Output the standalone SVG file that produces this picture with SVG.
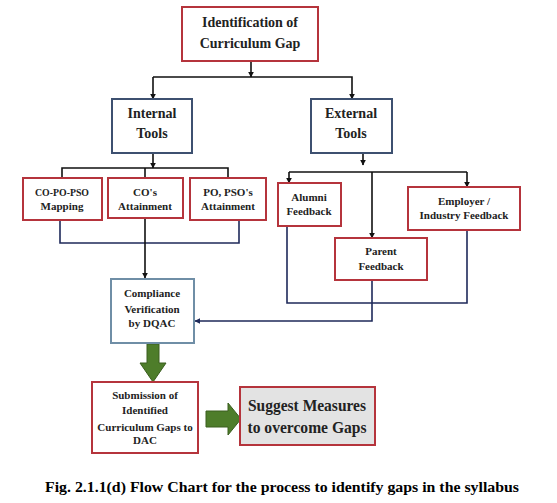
<svg xmlns="http://www.w3.org/2000/svg" width="557" height="503" viewBox="0 0 557 503">
<defs>
<marker id="ah" viewBox="0 0 10 10" refX="9" refY="5" markerWidth="6" markerHeight="6" orient="auto" markerUnits="userSpaceOnUse"><path d="M0,0 L10,5 L0,10 z" fill="#111"/></marker>
<marker id="ahb" viewBox="0 0 10 10" refX="9" refY="5" markerWidth="6" markerHeight="6" orient="auto" markerUnits="userSpaceOnUse"><path d="M0,0 L10,5 L0,10 z" fill="#1f2a5a"/></marker>
</defs>
<style>
.red{fill:#fff;stroke:#b5343c;stroke-width:2}
.blue{fill:#fff;stroke:#3d5070;stroke-width:2}
.lblue{fill:#fff;stroke:#6f8ea6;stroke-width:2}
.gray{fill:#e3e3e3;stroke:#b5343c;stroke-width:2}
.t14{font-size:14px}
.t11{font-size:11px}
.t17{font-size:17px}
.k{fill:none;stroke:#111;stroke-width:1.6}
.n{fill:none;stroke:#1f2a5a;stroke-width:1.6}
.g{fill:#4e7d2a;stroke:#3a5e1e;stroke-width:1}
.cap{font-size:15px;fill:#000}
</style>
<rect width="557" height="503" fill="#fff"/>
<g id="connectors">
<line class="k" x1="251" y1="61" x2="251" y2="77" marker-end="url(#ah)"/>
<polyline class="k" points="153,77 352,77 352,99" marker-end="url(#ah)"/>
<line class="k" x1="153" y1="77" x2="153" y2="99" marker-end="url(#ah)"/>
<line class="k" x1="153" y1="153" x2="153" y2="168" marker-end="url(#ah)"/>
<polyline class="k" points="62,178 62,168 228,168 228,178"/>
<line class="k" x1="145" y1="168" x2="145" y2="178"/>
<line class="k" x1="363" y1="153" x2="363" y2="165" marker-end="url(#ah)"/>
<line class="k" x1="289" y1="172" x2="467" y2="172"/>
<line class="k" x1="289" y1="172" x2="289" y2="183" marker-end="url(#ah)"/>
<line class="k" x1="467" y1="172" x2="467" y2="187" marker-end="url(#ah)"/>
<line class="k" x1="372" y1="172" x2="372" y2="238" marker-end="url(#ah)"/>
<polyline class="n" points="60,220 60,243 239,243 239,220"/>
<line class="k" x1="145" y1="218" x2="145" y2="278" marker-end="url(#ah)"/>
<polyline class="n" points="287,226 287,303 467,303 467,230"/>
<polyline class="n" points="372,280 372,321 195,321" marker-end="url(#ahb)"/>
<path class="g" d="M147,344 L159,344 L159,363 L166,363 L153,382 L140,363 L147,363 Z"/>
<path class="g" d="M206,411 L228,411 L228,403 L241,419 L228,435 L228,427 L206,427 Z"/>
</g>
<g font-family="'Liberation Serif', 'Times New Roman', serif" font-weight="bold" fill="#222" text-anchor="middle">
<g id="n-top"><rect class="red" x="182" y="7" width="136" height="54"/><text class="t14" x="250" y="27">Identification of</text><text class="t14" x="250" y="48">Curriculum Gap</text></g>
<g id="n-internal"><rect class="blue" x="112" y="99" width="80" height="54"/><text class="t14" x="152" y="118">Internal</text><text class="t14" x="152" y="138">Tools</text></g>
<g id="n-external"><rect class="blue" x="311" y="99" width="81" height="54"/><text class="t14" x="351" y="118">External</text><text class="t14" x="351" y="138">Tools</text></g>
<g id="n-copopso"><rect class="red" x="23" y="178" width="79" height="42"/><text class="t11" x="62" y="196" textLength="54" lengthAdjust="spacingAndGlyphs">CO-PO-PSO</text><text class="t11" x="62" y="210">Mapping</text></g>
<g id="n-cos"><rect class="red" x="108" y="178" width="75" height="40"/><text class="t11" x="145" y="196">CO's</text><text class="t11" x="145" y="210">Attainment</text></g>
<g id="n-pso"><rect class="red" x="190" y="178" width="76" height="42"/><text class="t11" x="228" y="196">PO, PSO's</text><text class="t11" x="228" y="210">Attainment</text></g>
<g id="n-alumni"><rect class="red" x="278" y="183" width="63" height="43"/><text class="t11" x="309" y="201">Alumni</text><text class="t11" x="309" y="215">Feedback</text></g>
<g id="n-employer"><rect class="red" x="408" y="187" width="112" height="43"/><text class="t11" x="464" y="205">Employer /</text><text class="t11" x="464" y="219">Industry Feedback</text></g>
<g id="n-parent"><rect class="red" x="335" y="238" width="92" height="42"/><text class="t11" x="381" y="255">Parent</text><text class="t11" x="381" y="270">Feedback</text></g>
<g id="n-compliance"><rect class="lblue" x="111" y="279" width="83" height="64"/><text class="t11" x="152" y="297">Compliance</text><text class="t11" x="152" y="313">Verification</text><text class="t11" x="152" y="327">by DQAC</text></g>
<g id="n-submission"><rect class="red" x="92" y="382" width="106" height="71"/><text class="t11" x="145" y="399">Submission of</text><text class="t11" x="145" y="414">Identified</text><text class="t11" x="145" y="431">Curriculum Gaps to</text><text class="t11" x="145" y="444">DAC</text></g>
<g id="n-suggest"><rect class="gray" x="240" y="387" width="135" height="58"/><text class="t17" x="307" y="411" textLength="118" lengthAdjust="spacingAndGlyphs">Suggest Measures</text><text class="t17" x="307" y="433" textLength="119" lengthAdjust="spacingAndGlyphs">to overcome Gaps</text></g>
<text class="cap" x="282" y="492" textLength="474" lengthAdjust="spacingAndGlyphs">Fig. 2.1.1(d) Flow Chart for the process to identify gaps in the syllabus</text>
</g>
</svg>
